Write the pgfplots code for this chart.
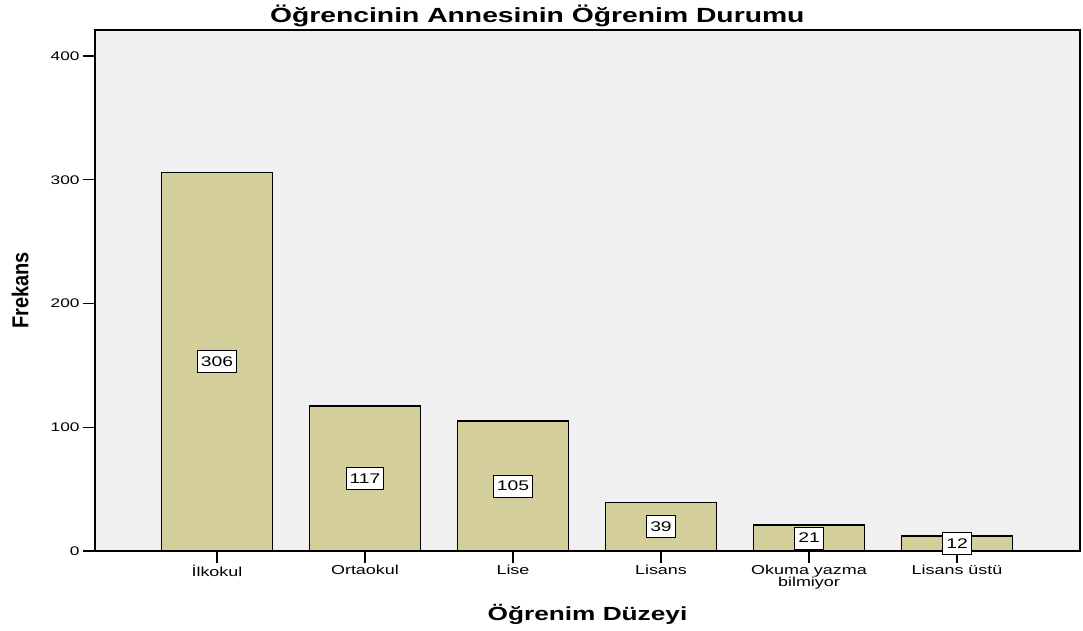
\documentclass[border=0pt]{standalone}
\usepackage{pgfplots}
\pgfplotsset{compat=1.18}
\usepackage{fontspec}
\setmainfont{Liberation Sans}[FakeStretch=1.38]
\newfontfamily\narrowfont{Liberation Sans}[FakeStretch=0.87]
\definecolor{barfill}{HTML}{D3CE9A}
\definecolor{bg}{HTML}{F0F0F0}
\begin{document}
\begin{tikzpicture}
\useasboundingbox (-95pt,-79pt) rectangle (988pt,551pt);
\begin{axis}[
  scale only axis,
  width=985pt, height=521pt,
  at={(0,0)}, anchor=south west,
  xmin=-0.824, xmax=5.831,
  ymin=0, ymax=421,
  axis background/.style={fill=bg},
  axis line style={line width=1.5pt},
  xtick={0,1,2,3,4,5},
  xticklabels={İlkokul,Ortaokul,Lise,Lisans,{Okuma yazma\\[-2.5pt]bilmiyor},Lisans üstü},
  xticklabel style={align=center, font=\fontsize{13}{14}\selectfont, yshift=1pt},
  ytick={0,100,200,300,400},
  yticklabel style={font=\fontsize{12.5}{14}\selectfont},
  /pgf/number format/assume math mode=true,
  tick align=outside,
  xtick pos=bottom, ytick pos=left,
  major tick length=12pt,
  tick style={line width=1.5pt, black},
  title={Öğrencinin Annesinin Öğrenim Durumu},
  title style={at={(rel axis cs:0.449,1)}, anchor=base, yshift=1.5pt, font=\bfseries\fontsize{20.5}{22}\selectfont},
  xlabel={Öğrenim Düzeyi},
  xlabel style={at={(axis description cs:0.5,-0.134)}, anchor=base, font=\bfseries\fontsize{19}{21}\selectfont},
  ylabel={Frekans},
  ylabel style={at={(axis description cs:-0.076,0.5)}, anchor=center, rotate=0, font=\narrowfont\bfseries\fontsize{23}{25}\selectfont},
]
\addplot[ybar, bar width=0.75, fill=barfill, draw=black, line width=1.5pt] coordinates {
  (0,306) (1,117) (2,105) (3,39) (4,21) (5,12)
};
\addplot[only marks, mark=none, nodes near coords, point meta=explicit symbolic,
  every node near coord/.append style={anchor=center, fill=white, draw=black, line width=1pt,
    inner xsep=3.5pt, inner ysep=0pt, minimum height=22pt, font=\fontsize{14}{15}\selectfont}] coordinates {
  (0,153)[306] (1,58.5)[117] (2,52.5)[105] (3,19.5)[39] (4,10.5)[21] (5,6)[12]
};
\end{axis}
\end{tikzpicture}
\end{document}
